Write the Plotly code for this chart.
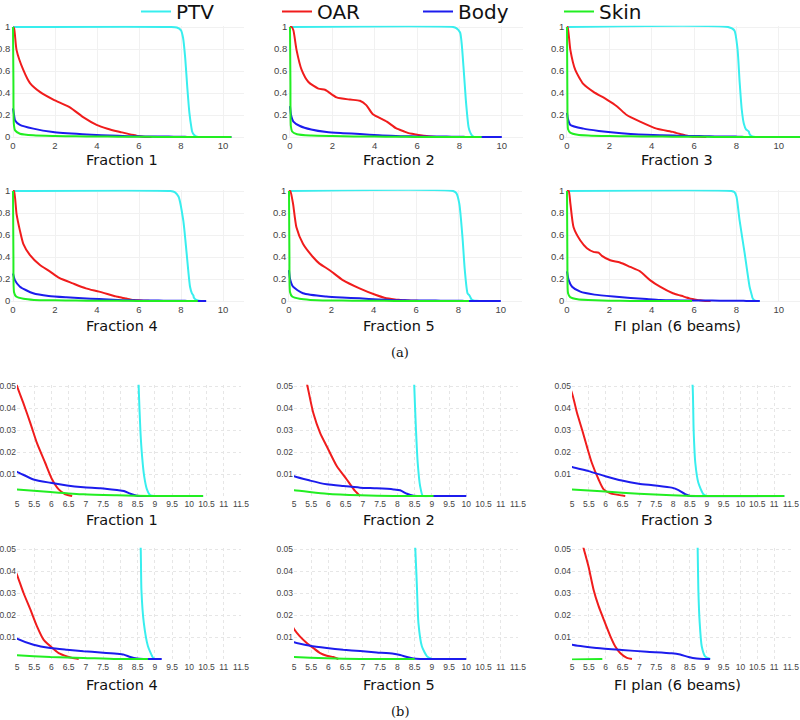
import plotly.graph_objects as go

# ---------------- data ----------------
structure_names = ["PTV", "OAR", "Body", "Skin"]
structure_colors = ["#38eeee", "#f01c1c", "#1c1ced", "#22ee22"]
panel_titles = ["Fraction 1", "Fraction 2", "Fraction 3", "Fraction 4", "Fraction 5", "FI plan (6 beams)"]

top_x_ticks = [0, 2, 4, 6, 8, 10]
top_y_ticks = [0, 0.2, 0.4, 0.6, 0.8, 1]
zoom_x_ticks = [5, 5.5, 6, 6.5, 7, 7.5, 8, 8.5, 9, 9.5, 10, 10.5, 11, 11.5]
zoom_y_ticks = [0.01, 0.02, 0.03, 0.04, 0.05]

# Fraction 1
ptv_dose_f1 = [0, 7.5, 7.8, 8.0, 8.1, 8.2, 8.3, 8.4, 8.5, 8.53, 8.58, 8.63, 8.69, 8.77, 8.87, 9.0]
ptv_vol_f1 = [1, 1, 0.995, 0.97, 0.9, 0.72, 0.45, 0.22, 0.08, 0.05, 0.03, 0.018, 0.009, 0.003, 0.0003, 0]
oar_dose_f1 = [0, 0.05, 0.17, 0.49, 0.81, 1.28, 1.92, 2.71, 3.34, 3.98, 4.5, 5.0, 5.19, 5.39, 5.58, 5.82, 6.02, 6.21, 6.4, 6.6]
oar_vol_f1 = [1, 0.99, 0.79, 0.61, 0.49, 0.41, 0.34, 0.27, 0.18, 0.11, 0.075, 0.05, 0.042, 0.033, 0.024, 0.015, 0.0075, 0.003, 0.0008, 0]
body_dose_f1 = [0, 0.05, 0.1, 0.33, 0.97, 1.9, 3.3, 4.2, 5.0, 5.48, 5.97, 6.45, 6.93, 7.42, 7.9, 8.1, 8.29, 8.48, 8.58, 10.4]
body_vol_f1 = [0.26, 0.2, 0.15, 0.11, 0.076, 0.045, 0.025, 0.016, 0.011, 0.0075, 0.006, 0.0048, 0.004, 0.0035, 0.0027, 0.0023, 0.001, 0.0001, 0, 0]
skin_dose_f1 = [0, 0.02, 0.04, 0.1, 0.33, 0.97, 2.0, 3.0, 4.0, 5.0, 5.97, 6.93, 7.9, 8.87, 10.4]
skin_vol_f1 = [1, 0.5, 0.12, 0.06, 0.03, 0.015, 0.009, 0.006, 0.004, 0.003, 0.0018, 0.00075, 0.0003, 0, 0]

# Fraction 2
ptv_dose_f2 = [0, 7.7, 7.85, 8.03, 8.19, 8.3, 8.43, 8.49, 8.54, 8.59, 8.66, 8.74, 9.0]
ptv_vol_f2 = [1, 1, 0.99, 0.95, 0.64, 0.34, 0.09, 0.05, 0.03, 0.015, 0.0045, 0, 0]
oar_dose_f2 = [0, 0.08, 0.16, 0.31, 0.55, 0.87, 1.34, 1.65, 1.81, 2.2, 2.83, 3.3, 3.6, 3.9, 4.57, 5.0, 5.39, 5.56, 5.76, 5.95, 6.24, 6.53, 6.77, 6.92]
oar_vol_f2 = [1, 1, 0.97, 0.79, 0.61, 0.5, 0.44, 0.43, 0.41, 0.36, 0.34, 0.33, 0.29, 0.21, 0.14, 0.08, 0.05, 0.0377, 0.0286, 0.0226, 0.0136, 0.0075, 0.0023, 0]
body_dose_f2 = [0, 0.05, 0.16, 0.47, 1.0, 1.73, 2.5, 3.3, 4.2, 5.0, 5.47, 5.95, 6.43, 6.92, 7.4, 7.89, 8.08, 8.28, 8.47, 8.57, 10.0]
body_vol_f2 = [0.28, 0.2, 0.14, 0.1, 0.068, 0.045, 0.035, 0.027, 0.015, 0.009, 0.007, 0.0053, 0.0045, 0.0038, 0.0035, 0.003, 0.0026, 0.001, 0.0001, 0, 0]
skin_dose_f2 = [0, 0.02, 0.04, 0.1, 0.33, 1.0, 2.0, 3.0, 4.0, 5.0, 5.95, 6.92, 7.9, 9.05]
skin_vol_f2 = [1, 0.5, 0.1, 0.05, 0.025, 0.013, 0.008, 0.005, 0.0035, 0.0026, 0.001, 0.0003, 0, 0]

# Fraction 3
ptv_dose_f3 = [0, 7.6, 7.9, 8.05, 8.15, 8.25, 8.35, 8.45, 8.58, 8.61, 8.66, 8.75, 8.9, 9.0]
ptv_vol_f3 = [1, 1, 0.97, 0.8, 0.5, 0.25, 0.12, 0.07, 0.05, 0.03, 0.015, 0.006, 0.0008, 0]
oar_dose_f3 = [0, 0.03, 0.16, 0.39, 0.78, 1.25, 1.88, 2.35, 2.82, 3.45, 4.23, 5.0, 5.15, 5.3, 5.44, 5.59, 5.79, 5.94, 6.14, 6.58]
oar_vol_f3 = [1, 1, 0.79, 0.61, 0.48, 0.41, 0.34, 0.28, 0.2, 0.14, 0.076, 0.0467, 0.0377, 0.0301, 0.0226, 0.015, 0.0075, 0.003, 0.0012, 0]
body_dose_f3 = [0, 0.05, 0.16, 0.78, 1.5, 2.2, 3.0, 3.76, 5.0, 5.49, 5.99, 6.48, 6.98, 7.47, 7.96, 8.16, 8.36, 8.51, 11.3]
body_vol_f3 = [0.22, 0.16, 0.11, 0.076, 0.055, 0.04, 0.028, 0.02, 0.0132, 0.0113, 0.009, 0.007, 0.0056, 0.0048, 0.0038, 0.0027, 0.0008, 0, 0]
skin_dose_f3 = [0, 0.02, 0.05, 0.15, 0.5, 1.0, 2.0, 3.0, 4.0, 5.0, 5.99, 6.98, 7.96, 8.7, 11.3]
skin_vol_f3 = [1, 0.3, 0.07, 0.04, 0.02, 0.013, 0.008, 0.006, 0.004, 0.003, 0.002, 0.001, 0.0003, 0, 0]

# Fraction 4
ptv_dose_f4 = [0, 7.5, 7.7, 7.88, 8.11, 8.27, 8.43, 8.52, 8.59, 8.61, 8.68, 8.8, 8.95, 9.0]
ptv_vol_f4 = [1, 1, 0.99, 0.95, 0.73, 0.43, 0.13, 0.07, 0.05, 0.0315, 0.0164, 0.0058, 0.0005, 0]
oar_dose_f4 = [0, 0.05, 0.17, 0.33, 0.49, 0.8, 1.27, 1.75, 2.2, 2.85, 3.47, 4.1, 4.9, 5.0, 5.19, 5.39, 5.58, 5.77, 5.97, 6.21, 6.45, 6.6, 6.79]
oar_vol_f4 = [1, 1, 0.79, 0.64, 0.52, 0.42, 0.33, 0.27, 0.21, 0.16, 0.115, 0.085, 0.042, 0.0383, 0.03, 0.0224, 0.0148, 0.0088, 0.0058, 0.0027, 0.0012, 0.0005, 0]
body_dose_f4 = [0, 0.09, 0.33, 0.96, 1.7, 2.53, 3.3, 4.1, 5.0, 5.48, 5.97, 6.45, 6.93, 7.42, 7.9, 8.1, 8.29, 8.48, 8.67, 9.2]
body_vol_f4 = [0.25, 0.19, 0.13, 0.07, 0.045, 0.033, 0.025, 0.018, 0.0092, 0.0065, 0.005, 0.0042, 0.0035, 0.003, 0.0024, 0.002, 0.0009, 0.0002, 0, 0]
skin_dose_f4 = [0, 0.02, 0.05, 0.15, 0.5, 1.0, 2.0, 3.0, 4.0, 5.0, 5.97, 6.93, 7.9, 8.8]
skin_vol_f4 = [1, 0.4, 0.08, 0.04, 0.02, 0.01, 0.006, 0.004, 0.0025, 0.0017, 0.0009, 0.0005, 0, 0]

# Fraction 5
ptv_dose_f5 = [0, 7.75, 7.9, 8.04, 8.19, 8.3, 8.43, 8.52, 8.57, 8.61, 8.71, 8.86, 9.0]
ptv_vol_f5 = [1, 1, 0.98, 0.885, 0.58, 0.28, 0.07, 0.05, 0.0315, 0.0164, 0.0058, 0.0012, 0]
oar_dose_f5 = [0, 0.06, 0.19, 0.35, 0.66, 1.13, 1.44, 1.92, 2.54, 3.33, 4.11, 4.5, 5.0, 5.17, 5.37, 5.56, 5.76, 5.95, 6.14, 6.29]
oar_vol_f5 = [1, 1, 0.885, 0.67, 0.52, 0.4, 0.34, 0.28, 0.19, 0.115, 0.054, 0.03, 0.0136, 0.0103, 0.0073, 0.005, 0.0027, 0.0015, 0.0009, 0]
body_dose_f5 = [0, 0.05, 0.19, 0.66, 1.76, 2.5, 3.33, 4.2, 5.0, 5.47, 5.95, 6.43, 6.92, 7.4, 7.89, 8.08, 8.28, 8.47, 8.66, 10.0]
body_vol_f5 = [0.28, 0.2, 0.13, 0.07, 0.04, 0.031, 0.024, 0.014, 0.0076, 0.006, 0.005, 0.0042, 0.0036, 0.003, 0.0024, 0.0018, 0.0009, 0.0002, 0, 0]
skin_dose_f5 = [0, 0.02, 0.05, 0.15, 0.5, 1.0, 2.0, 3.0, 4.0, 5.0, 5.95, 6.92, 8.5]
skin_vol_f5 = [1, 0.4, 0.08, 0.04, 0.02, 0.01, 0.005, 0.003, 0.0015, 0.0009, 0.0003, 0, 0]

# FI plan (6 beams)
ptv_dose_fi = [0, 7.76, 7.9, 8.0, 8.15, 8.39, 8.62, 8.7, 8.73, 8.75, 8.79, 8.85, 8.95, 9.1]
ptv_vol_fi = [1, 1, 0.99, 0.95, 0.73, 0.43, 0.13, 0.07, 0.05, 0.0315, 0.0164, 0.0058, 0.0012, 0]
oar_dose_fi = [0, 0.08, 0.16, 0.31, 0.63, 0.94, 1.25, 1.49, 1.65, 2.04, 2.5, 2.98, 3.45, 3.92, 4.39, 5.0, 5.35, 5.49, 5.64, 5.79, 5.94, 6.14, 6.28, 6.43, 6.63, 6.78]
oar_vol_fi = [1, 1, 0.885, 0.67, 0.55, 0.48, 0.447, 0.44, 0.41, 0.37, 0.35, 0.31, 0.27, 0.19, 0.13, 0.07, 0.05, 0.042, 0.0315, 0.024, 0.018, 0.0103, 0.0058, 0.0027, 0.0005, 0]
body_dose_fi = [0, 0.08, 0.24, 0.63, 1.3, 2.2, 3.0, 3.76, 4.4, 5.0, 5.74, 6.48, 7.22, 7.96, 8.21, 8.46, 8.7, 8.9, 9.1]
body_vol_fi = [0.27, 0.19, 0.13, 0.085, 0.058, 0.04, 0.028, 0.018, 0.01, 0.0065, 0.005, 0.0041, 0.0033, 0.0026, 0.002, 0.0009, 0.0002, 0, 0]
skin_dose_fi = [0, 0.02, 0.05, 0.15, 0.5, 1.0, 2.0, 3.0, 5.9]
skin_vol_fi = [1, 0.3, 0.07, 0.035, 0.015, 0.008, 0.003, 0, 0]

panels = [
    [(ptv_dose_f1, ptv_vol_f1), (oar_dose_f1, oar_vol_f1), (body_dose_f1, body_vol_f1), (skin_dose_f1, skin_vol_f1)],
    [(ptv_dose_f2, ptv_vol_f2), (oar_dose_f2, oar_vol_f2), (body_dose_f2, body_vol_f2), (skin_dose_f2, skin_vol_f2)],
    [(ptv_dose_f3, ptv_vol_f3), (oar_dose_f3, oar_vol_f3), (body_dose_f3, body_vol_f3), (skin_dose_f3, skin_vol_f3)],
    [(ptv_dose_f4, ptv_vol_f4), (oar_dose_f4, oar_vol_f4), (body_dose_f4, body_vol_f4), (skin_dose_f4, skin_vol_f4)],
    [(ptv_dose_f5, ptv_vol_f5), (oar_dose_f5, oar_vol_f5), (body_dose_f5, body_vol_f5), (skin_dose_f5, skin_vol_f5)],
    [(ptv_dose_fi, ptv_vol_fi), (oar_dose_fi, oar_vol_fi), (body_dose_fi, body_vol_fi), (skin_dose_fi, skin_vol_fi)],
]

# ---------------- layout geometry (pixels) ----------------
W, H = 800, 720
top_x_px = [(13, 244), (290, 523), (567, 800)]      # dose 0 .. 11
top_y_px = [(27, 137), (191, 301)]                  # volume 1 .. 0
zoom_x_px = [(17, 241), (294, 518), (572, 791)]     # dose 5 .. 11.5
zoom_y_px = [(386, 496), (549, 659)]                # volume 0.05 .. 0
top_title_y = [160, 326]
zoom_title_y = [520, 685]
title_x = [122, 399, 677]

TOP_XR = (-0.08, 11.0)
TOP_YR = (-0.012, 1.012)
ZOOM_XR = (5.0, 11.5)
ZOOM_YR = (-0.0006, 0.0506)


def xdomain(px0, px1, v0, v1, r0, r1):
    s = (px1 - px0) / (v1 - v0)
    a = px0 + (r0 - v0) * s
    b = px0 + (r1 - v0) * s
    return [max(a, 0) / W, min(b, W) / W]


def ydomain(pxtop, pxbot, vtop, vbot, r0, r1):
    s = (pxbot - pxtop) / (vtop - vbot)
    top = pxtop - (r1 - vtop) * s
    bot = pxbot + (vbot - r0) * s
    return [1 - bot / H, 1 - top / H]


fig = go.Figure()
layout = dict(
    width=W, height=H,
    margin=dict(l=0, r=0, t=0, b=0, pad=0, autoexpand=False),
    paper_bgcolor="white", plot_bgcolor="white",
    font=dict(family="DejaVu Sans", color="#333"),
    showlegend=True,
    hovermode=False,
    legend=dict(orientation="h", x=136 / W, y=1 + 8 / H, xanchor="left", yanchor="top",
                font=dict(family="DejaVu Sans", size=20, color="#111"),
                entrywidth=96, entrywidthmode="pixels", itemwidth=30,
                bgcolor="rgba(0,0,0,0)", tracegroupgap=0),
)
annotations = []

tick_font = dict(family="Liberation Sans", size=9.5, color="#444")
zoom_xtick_font = dict(family="Liberation Sans", size=8.5, color="#444")

ax_id = 0
for view in ("top", "zoom"):
    for p in range(6):
        r, c = divmod(p, 3)
        ax_id += 1
        xa = "xaxis" if ax_id == 1 else f"xaxis{ax_id}"
        ya = "yaxis" if ax_id == 1 else f"yaxis{ax_id}"
        xref = "x" if ax_id == 1 else f"x{ax_id}"
        yref = "y" if ax_id == 1 else f"y{ax_id}"
        common = dict(zeroline=False, showline=False, automargin=False, ticks="",
                      showgrid=True, tickangle=0, fixedrange=True)
        if view == "top":
            x0, x1 = top_x_px[c]
            if r == 1 and c == 1:
                x0, x1 = 289, 522
            xd = xdomain(x0, x1, 0, 11, *TOP_XR)
            yt, yb = top_y_px[r]
            yd = ydomain(yt, yb, 1, 0, *TOP_YR)
            layout[xa] = dict(domain=xd, range=list(TOP_XR), anchor=yref, tickvals=top_x_ticks,
                              gridcolor="#f1f1f1", tickfont=tick_font, **common)
            layout[ya] = dict(domain=yd, range=list(TOP_YR), anchor=xref, tickvals=top_y_ticks,
                              gridcolor="#f1f1f1", tickfont=tick_font, **common)
            ty = top_title_y[r]
        else:
            x0, x1 = zoom_x_px[c]
            xd = xdomain(x0, x1, 5, 11.5, *ZOOM_XR)
            yt, yb = zoom_y_px[r]
            yd = ydomain(yt, yb, 0.05, 0, *ZOOM_YR)
            layout[xa] = dict(domain=xd, range=list(ZOOM_XR), anchor=yref, tickvals=zoom_x_ticks,
                              gridcolor="#e6e6e6", griddash="dot",
                              tickfont=zoom_xtick_font, **common)
            layout[ya] = dict(domain=yd, range=list(ZOOM_YR), anchor=xref, tickvals=zoom_y_ticks,
                              gridcolor="#e6e6e6", griddash="dot",
                              tickfont=zoom_xtick_font, **common)
            ty = zoom_title_y[r]
        annotations.append(dict(text=panel_titles[p], x=title_x[c] / W, y=1 - ty / H, xref="paper",
                                yref="paper", showarrow=False, xanchor="center", yanchor="middle",
                                font=dict(family="DejaVu Sans", size=14.5, color="#111")))
        for s, (dose, vol) in enumerate(panels[p]):
            fig.add_trace(go.Scatter(
                x=dose, y=vol, mode="lines", name=structure_names[s],
                line=dict(color=structure_colors[s], width=2, shape="spline", smoothing=0.6),
                xaxis=xref, yaxis=yref,
                showlegend=(ax_id == 1), hoverinfo="skip"))

for cap, cy in (("(a)", 352), ("(b)", 711)):
    annotations.append(dict(text=cap, x=400 / W, y=1 - cy / H, xref="paper", yref="paper",
                            xanchor="center", yanchor="middle", showarrow=False,
                            font=dict(family="DejaVu Serif", size=13, color="#111")))
layout["annotations"] = annotations
fig.update_layout(**layout)
fig.write_html("out.html", config={"displayModeBar": False, "staticPlot": True},
               post_script="document.body.style.margin='0px';")
